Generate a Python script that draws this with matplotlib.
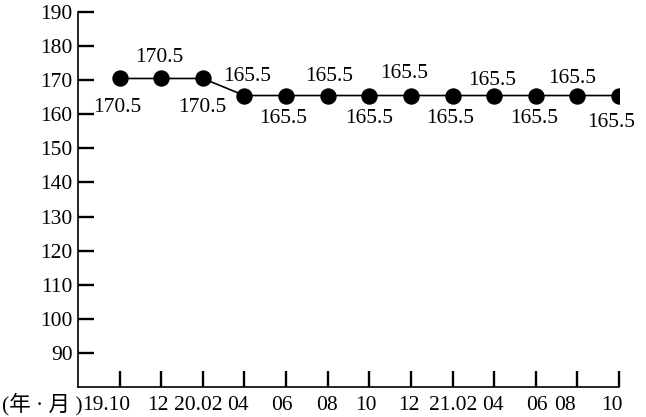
import matplotlib
matplotlib.use("Agg")
import matplotlib.pyplot as plt

plt.rcParams['font.family'] = ['Liberation Serif', 'Noto Sans CJK SC', 'DejaVu Sans']

months = ['19.10', '12', '20.02', '04', '06', '08', '10',
          '12', '21.02', '04', '06', '08', '10']
values = [170.5, 170.5, 170.5, 165.5, 165.5, 165.5, 165.5,
          165.5, 165.5, 165.5, 165.5, 165.5, 165.5]
yticks = [90, 100, 110, 120, 130, 140, 150, 160, 170, 180, 190]

# where the value labels sit relative to the marker (pixels, +y = down)
lab_dx = [-2, -2, -1, 3, -3, 1, 0, -7, -2, -2, -2, -5, -8]
lab_dy = [27, -23, 27, -22, 20, -22, 20, -25, 20, -18, 20, -20, 24]
# small horizontal nudges of the month labels (pixels)
tick_dx = [-13, -3, -5, -7, -4, -1, -3, -2, 1, -1, 1, -12, -7]

fs = 15.5
fig = plt.figure(figsize=(6.46, 4.17), dpi=100)
ax = fig.add_axes([78 / 646, 30 / 417, 541 / 646, 375 / 417])

x = list(range(len(months)))
ax.plot(x, values, color='black', lw=1.2, marker='o', ms=10.8, zorder=3)

for i, v in enumerate(values):
    ax.annotate(f'{v}', (i, v), xytext=(lab_dx[i], -(lab_dy[i] + 7)),
                textcoords='offset pixels', ha='center', va='baseline',
                fontsize=fs)

ax.set_xlim(-1, 12)
ax.set_ylim(80, 190)
ax.set_yticks(yticks)
ax.set_xticks(x)
ax.set_xticklabels([])

# month labels drawn by hand so they can be nudged like the original
for i, m in enumerate(months):
    ax.annotate(m, (i, 0), xycoords=('data', 'axes fraction'),
                xytext=(tick_dx[i], -23), textcoords='offset pixels',
                ha='center', va='baseline', fontsize=fs)
ax.annotate('(年 · 月 )', (-1, 0), xycoords=('data', 'axes fraction'),
            xytext=(5, -23), textcoords='offset pixels',
            ha='right', va='baseline', fontsize=fs)

for s in ['top', 'right']:
    ax.spines[s].set_visible(False)
for s in ['left', 'bottom']:
    ax.spines[s].set_linewidth(1.2)

ax.tick_params(axis='both', direction='in', length=11.5, width=1.7, labelsize=fs)
ax.tick_params(axis='y', pad=4)

fig.savefig('out.png', dpi=100)
